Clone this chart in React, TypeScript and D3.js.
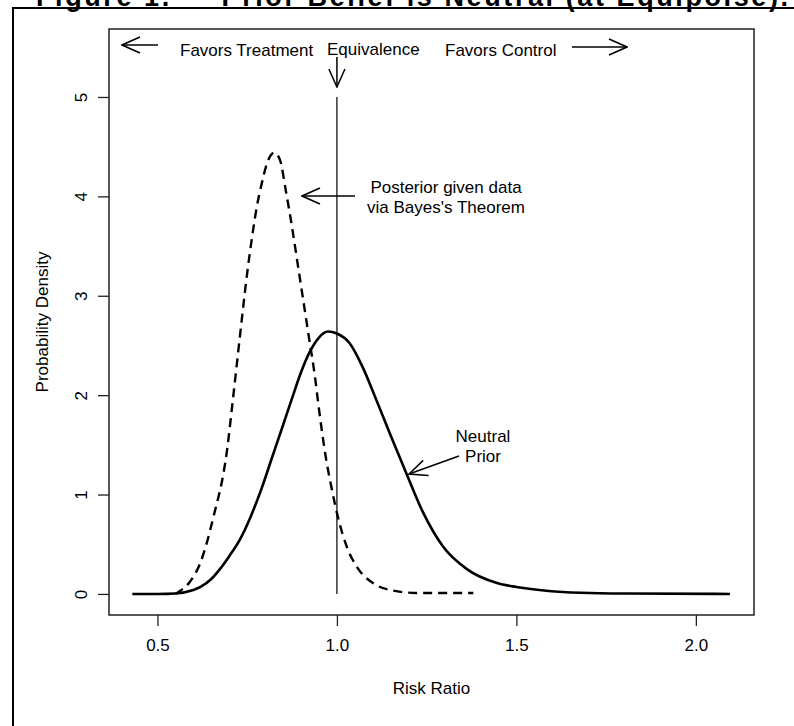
import React, { useEffect, useRef } from 'react'
import * as d3 from 'd3'

// neutral prior (solid): [risk ratio, density]
const priorCurve: [number, number][] = [
  [0.43, 0], [0.5, 0], [0.55, 0.005], [0.6, 0.04], [0.62, 0.07], [0.65, 0.15],
  [0.674, 0.25], [0.7, 0.38], [0.73, 0.55], [0.76, 0.78], [0.79, 1.06],
  [0.82, 1.38], [0.85, 1.7], [0.877, 1.99], [0.9, 2.23], [0.925, 2.44],
  [0.95, 2.58], [0.975, 2.64], [1.0, 2.62], [1.036, 2.52], [1.072, 2.28],
  [1.11, 1.95], [1.148, 1.61], [1.195, 1.2], [1.24, 0.82], [1.295, 0.48],
  [1.362, 0.25], [1.446, 0.11], [1.5, 0.07], [1.59, 0.03], [1.68, 0.012],
  [1.8, 0.004], [2.095, 0]
]

// posterior (dashed)
const posteriorCurve: [number, number][] = [
  [0.55, 0], [0.563, 0.03], [0.59, 0.12], [0.618, 0.3], [0.655, 0.76],
  [0.694, 1.45], [0.71, 1.95], [0.73, 2.6], [0.749, 3.2], [0.766, 3.65],
  [0.777, 3.9], [0.79, 4.12], [0.805, 4.33], [0.825, 4.44], [0.841, 4.37],
  [0.858, 4.05], [0.875, 3.69], [0.889, 3.36], [0.903, 3.03], [0.92, 2.63],
  [0.939, 2.18], [0.95, 1.86], [0.967, 1.42], [0.986, 1.05], [1.003, 0.77],
  [1.028, 0.47], [1.056, 0.27], [1.1, 0.11], [1.148, 0.04], [1.22, 0.01],
  [1.38, 0.01]
]

const xTicks = [0.5, 1.0, 1.5, 2.0]
const yTicks = [0, 1, 2, 3, 4, 5]
const equivalence = 1.0

const font = "'Liberation Sans', Arial, sans-serif"

export default function App() {
  const ref = useRef<SVGSVGElement>(null)

  useEffect(() => {
    const svg = d3.select(ref.current)
    svg.selectAll('*').remove()

    const width = 794, height = 726
    const box = { left: 109, right: 754, top: 29, bottom: 615 }

    const x = d3.scaleLinear([0.365, 2.162], [box.left, box.right])
    const y = d3.scaleLinear([-0.212, 5.684], [box.bottom, box.top])

    svg.attr('width', width).attr('height', height)

    svg.append('defs').append('marker')
      .attr('id', 'open')
      .attr('viewBox', '0 0 20 20')
      .attr('refX', 19).attr('refY', 10)
      .attr('markerWidth', 20).attr('markerHeight', 20)
      .attr('markerUnits', 'userSpaceOnUse')
      .attr('orient', 'auto')
      .append('path')
      .attr('d', 'M1,2 L19,10 L1,18')
      .attr('fill', 'none').attr('stroke', '#000').attr('stroke-width', 1.5)

    // title cut off at the top of the page (as in the scan)
    svg.append('text')
      .attr('x', 36).attr('y', 6)
      .attr('textLength', 752).attr('lengthAdjust', 'spacing')
      .attr('font-family', font).attr('font-weight', 'bold').attr('font-size', 27)
      .text('Figure 1. — Prior Belief is Neutral (at Equipoise).')

    // outer frame
    svg.append('path')
      .attr('d', `M13,${height} L13,8 L${width},8`)
      .attr('fill', 'none').attr('stroke', '#000').attr('stroke-width', 2)

    // plot box
    svg.append('rect')
      .attr('x', box.left).attr('y', box.top)
      .attr('width', box.right - box.left).attr('height', box.bottom - box.top)
      .attr('fill', 'none').attr('stroke', '#222').attr('stroke-width', 1.5)

    // axes
    const xAxis = svg.append('g')
      .attr('transform', `translate(0,${box.bottom})`)
      .call(d3.axisBottom(x).tickValues(xTicks).tickSize(11).tickPadding(13).tickFormat(d3.format('.1f')))
    const yAxis = svg.append('g')
      .attr('transform', `translate(${box.left},0)`)
      .call(d3.axisLeft(y).tickValues(yTicks).tickSize(11).tickFormat(d3.format('d')))
    ;[xAxis, yAxis].forEach(g => {
      g.select('.domain').remove()
      g.selectAll('line').attr('stroke', '#222').attr('stroke-width', 1.3)
      g.selectAll('text').attr('font-family', font).attr('font-size', 17).attr('fill', '#000')
    })
    xAxis.selectAll('text').attr('dy', '0.71em')
    yAxis.selectAll('text')
      .attr('x', null).attr('dy', null)
      .attr('text-anchor', 'middle')
      .attr('transform', 'translate(-28,0) rotate(-90)')
      .attr('dominant-baseline', 'central')

    svg.append('text')
      .attr('x', (box.left + box.right) / 2).attr('y', 694)
      .attr('text-anchor', 'middle')
      .attr('font-family', font).attr('font-size', 17)
      .text('Risk Ratio')
    svg.append('text')
      .attr('transform', `translate(48,${(box.top + box.bottom) / 2}) rotate(-90)`)
      .attr('text-anchor', 'middle')
      .attr('font-family', font).attr('font-size', 17)
      .text('Probability Density')

    // equivalence line
    svg.append('line')
      .attr('x1', x(equivalence)).attr('x2', x(equivalence))
      .attr('y1', y(5)).attr('y2', y(0))
      .attr('stroke', '#000').attr('stroke-width', 1.2)

    const line = d3.line<[number, number]>()
      .x(d => x(d[0])).y(d => y(d[1]))
      .curve(d3.curveMonotoneX)

    svg.append('path')
      .attr('d', line(priorCurve))
      .attr('fill', 'none').attr('stroke', '#000').attr('stroke-width', 2.6)
    svg.append('path')
      .attr('d', line(posteriorCurve))
      .attr('fill', 'none').attr('stroke', '#000').attr('stroke-width', 2.4)
      .attr('stroke-dasharray', '9,6')

    // header annotations
    const label = (tx: number, ty: number, s: string, anchor = 'start') =>
      svg.append('text')
        .attr('x', tx).attr('y', ty).attr('text-anchor', anchor)
        .attr('font-family', font).attr('font-size', 17)
        .text(s)
    const arrow = (x1: number, y1: number, x2: number, y2: number) =>
      svg.append('line')
        .attr('x1', x1).attr('y1', y1).attr('x2', x2).attr('y2', y2)
        .attr('stroke', '#000').attr('stroke-width', 1.5)
        .attr('marker-end', 'url(#open)')

    arrow(158, 45, 122, 45)
    label(180, 56, 'Favors Treatment')
    label(327, 55, 'Equivalence')
    arrow(x(equivalence), 57, x(equivalence), 87)
    label(445, 56, 'Favors Control')
    arrow(572, 47, 627, 47)

    // posterior callout
    arrow(355, 196, 302, 196)
    label(446, 193, 'Posterior given data', 'middle')
    label(446, 213, "via Bayes's Theorem", 'middle')

    // prior callout
    label(483, 442, 'Neutral', 'middle')
    label(483, 462, 'Prior', 'middle')
    arrow(459, 456, 409, 474)
  }, [])

  return (
    <div style={{ position: 'absolute', left: 0, top: 0 }}>
      <svg ref={ref} style={{ display: 'block', background: '#fff' }} />
    </div>
  )
}
